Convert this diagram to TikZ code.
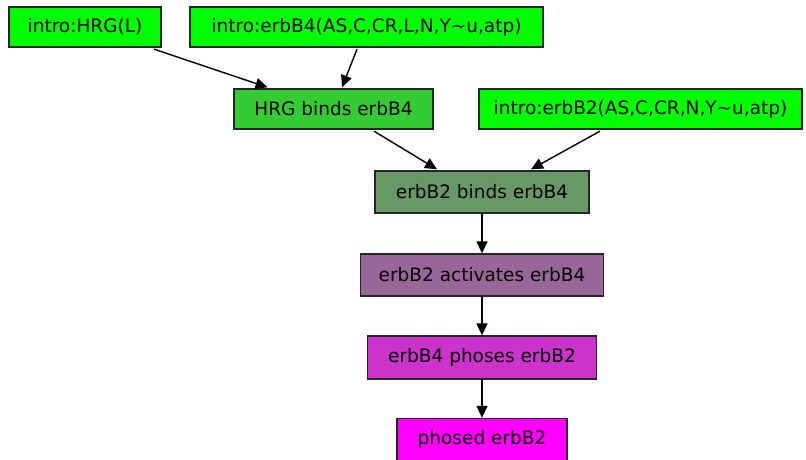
\documentclass[tikz,border=0pt]{standalone}
\usepackage{fontspec}
\setmainfont{DejaVu Sans}
\usetikzlibrary{arrows.meta}
\definecolor{cintro}{HTML}{00FF00}
\definecolor{chrg}{HTML}{33CC33}
\definecolor{cbind}{HTML}{669966}
\definecolor{cact}{HTML}{996699}
\definecolor{cphos}{HTML}{CC33CC}
\definecolor{cphosed}{HTML}{FF00FF}
\tikzset{
  box/.style={draw=black!85, line width=1.3pt, inner sep=0pt, anchor=center,
    font=\fontsize{18.5}{22}\selectfont, text=black},
  edge/.style={line width=1.4pt, draw=black, -{Triangle[length=12pt,width=11pt]}}
}
\begin{document}
\begin{tikzpicture}[x=1pt,y=1pt]
\useasboundingbox[fill=white] (0,0) rectangle (806,-460);
\node[box, fill=cintro, minimum width=152pt, minimum height=40pt] (hrgl) at (85,-27) {intro:HRG(L)};
\node[box, fill=cintro, minimum width=353pt, minimum height=40pt] (erbfour) at (366.5,-27) {intro:erbB4(AS,C,CR,L,N,Y\char`\~u,atp)};
\node[box, fill=chrg, minimum width=199pt, minimum height=40pt] (hrgbinds) at (333.5,-109) {HRG binds erbB4};
\node[box, fill=cintro, minimum width=323pt, minimum height=40pt] (erbtwo) at (640.5,-109) {intro:erbB2(AS,C,CR,N,Y\char`\~u,atp)};
\node[box, fill=cbind, minimum width=214pt, minimum height=42pt] (binds) at (482,-192) {erbB2 binds erbB4};
\node[box, fill=cact, minimum width=243pt, minimum height=42pt] (act) at (482,-275) {erbB2 activates erbB4};
\node[box, fill=cphos, minimum width=229pt, minimum height=43pt] (phos) at (482,-357.5) {erbB4 phoses erbB2};
\node[box, fill=cphosed, minimum width=170pt, minimum height=42pt] (phosed) at (482,-439.5) {phosed erbB2};
\draw[edge] ([xshift=69pt,yshift=-1.5pt]hrgl.south) -- ([xshift=-66pt,yshift=1pt]hrgbinds.north);
\draw[edge] ([xshift=-9.5pt,yshift=-1.5pt]erbfour.south) -- ([xshift=8.5pt,yshift=1pt]hrgbinds.north);
\draw[edge] ([xshift=40.5pt,yshift=-1.5pt]hrgbinds.south) -- ([xshift=-45pt,yshift=1pt]binds.north);
\draw[edge] ([xshift=-40.5pt,yshift=-1.5pt]erbtwo.south) -- ([xshift=49pt,yshift=1pt]binds.north);
\draw[edge] (binds.south) -- (act.north);
\draw[edge] (act.south) -- (phos.north);
\draw[edge] (phos.south) -- (phosed.north);
\end{tikzpicture}
\end{document}
